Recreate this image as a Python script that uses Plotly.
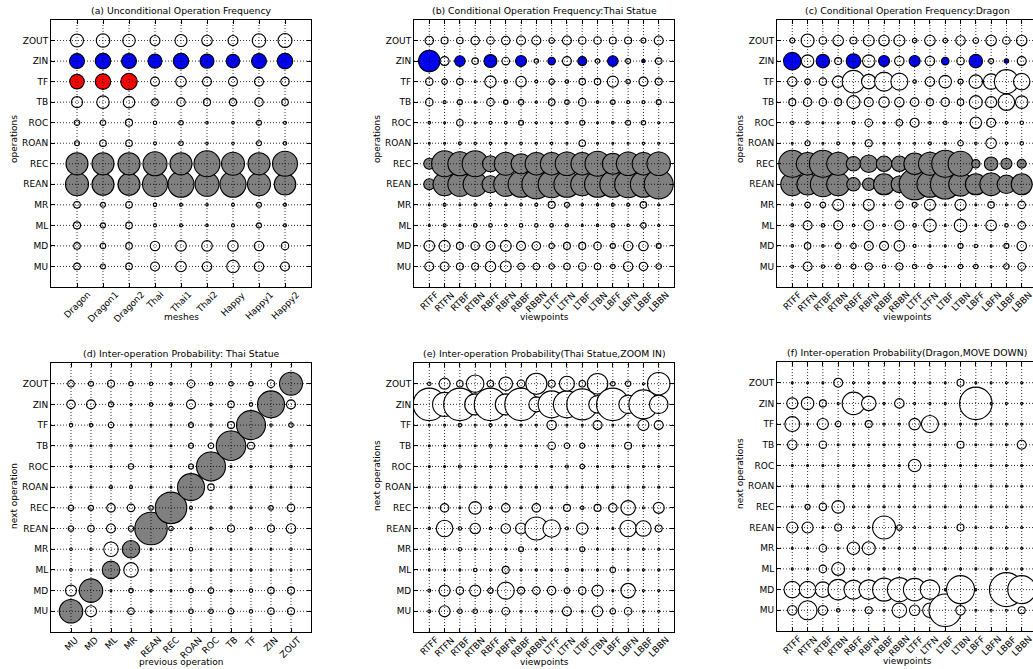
import math
import plotly.graph_objects as go

W, H = 1033, 669
FONT = "DejaVu Sans"

# ---------------- categories ----------------
OPS = ["ZOUT", "ZIN", "TF", "TB", "ROC", "ROAN", "REC", "REAN", "MR", "ML", "MD", "MU"]  # top -> bottom
MESHES = ["Dragon", "Dragon1", "Dragon2", "Thai", "Thai1", "Thai2", "Happy", "Happy1", "Happy2"]
VIEWS = ["RTFF", "RTFN", "RTBF", "RTBN", "RBFF", "RBFN", "RBBF", "RBBN",
         "LTFF", "LTFN", "LTBF", "LTBN", "LBFF", "LBFN", "LBBF", "LBBN"]
PREV_OPS = ["MU", "MD", "ML", "MR", "REAN", "REC", "ROAN", "ROC", "TB", "TF", "ZIN", "ZOUT"]

# ---------------- values (%), rows follow OPS order ----------------
uncond_freq = [
    [7.8, 8.4, 7.3, 4.8, 6.8, 5.3, 4.8, 8.4, 9.0],
    [10.2, 10.9, 10.2, 9.0, 10.9, 9.0, 8.4, 10.2, 10.9],
    [9.6, 10.9, 12.3, 4.0, 5.3, 4.0, 4.0, 4.0, 3.6],
    [5.8, 7.3, 6.3, 2.3, 3.6, 2.6, 2.6, 3.6, 2.3],
    [1.7, 1.7, 2.6, 0.8, 1.2, 0.5, 0.5, 1.4, 0.64],
    [1.4, 2.3, 2.3, 0.64, 1.2, 0.5, 0.5, 1.4, 0.8],
    [21.2, 21.2, 21.2, 25.0, 21.2, 29.2, 23.0, 21.2, 27.0],
    [23.0, 21.2, 21.2, 27.0, 29.2, 25.0, 29.2, 23.0, 20.3],
    [2.3, 1.4, 2.3, 0.8, 0.64, 0.5, 0.64, 1.4, 0.64],
    [2.6, 1.4, 2.3, 0.64, 0.64, 0.5, 0.64, 1.4, 0.64],
    [2.3, 1.7, 2.3, 4.4, 5.3, 5.3, 5.3, 4.4, 2.9],
    [2.3, 1.4, 2.3, 4.0, 5.3, 4.4, 7.3, 4.4, 4.0],
]

cond_freq_thai = [
    [3.6, 2.56, 2.25, 3.6, 2.9, 3.6, 4.0, 4.0, 1.7, 4.0, 2.9, 2.9, 2.56, 2.56, 1.44, 4.0],
    [20.3, 4.0, 5.3, 2.25, 7.8, 2.9, 5.8, 1.2, 2.9, 4.0, 4.0, 1.2, 5.3, 1.44, 0.8, 2.25],
    [2.9, 1.7, 2.25, 0.16, 6.25, 0.8, 5.3, 0.64, 1.7, 0.8, 2.25, 2.25, 5.8, 1.2, 4.0, 2.56],
    [2.9, 0.64, 1.44, 0.36, 2.9, 1.2, 1.7, 0.36, 2.25, 1.2, 2.9, 0.5, 1.2, 0.64, 0.64, 1.44],
    [0.5, 0.16, 2.25, 0.16, 0.64, 0.5, 1.44, 0.16, 0.16, 0.5, 1.44, 0.16, 0.5, 1.44, 1.2, 0.16],
    [0.16, 0.16, 0.64, 0.5, 0.5, 0.36, 0.5, 0.16, 0.5, 0.16, 2.25, 0.36, 0.16, 0.36, 0.5, 0.16],
    [5.8, 29.2, 25.0, 29.2, 11.6, 23.0, 17.6, 22.1, 22.1, 24.0, 22.1, 27.0, 19.4, 24.0, 22.1, 24.0],
    [5.8, 23.0, 25.0, 25.0, 13.0, 25.0, 29.2, 36.0, 31.4, 29.2, 23.0, 29.2, 29.2, 31.4, 29.2, 36.0],
    [0.16, 0.64, 0.36, 0.5, 0.64, 0.36, 0.5, 0.64, 2.56, 1.44, 0.5, 0.5, 0.64, 0.64, 2.25, 0.16],
    [0.16, 0.64, 0.36, 0.8, 0.8, 0.5, 0.8, 0.8, 0.8, 0.64, 0.16, 0.5, 0.8, 0.5, 1.7, 0.16],
    [5.3, 5.8, 2.56, 3.6, 4.0, 5.8, 4.0, 3.6, 1.7, 2.56, 2.56, 2.9, 1.44, 4.4, 4.4, 1.44],
    [4.0, 4.0, 2.56, 2.56, 5.3, 5.8, 2.25, 2.25, 1.7, 2.25, 2.9, 2.25, 1.2, 4.4, 3.6, 1.7],
]

cond_freq_dragon = [
    [1.44, 7.8, 2.9, 5.3, 2.56, 5.8, 5.3, 5.8, 1.2, 5.3, 1.2, 4.4, 1.7, 5.3, 2.9, 5.3],
    [13.7, 7.3, 8.4, 2.56, 9.6, 7.3, 5.8, 4.4, 5.8, 4.4, 2.9, 2.9, 8.4, 1.44, 1.2, 4.0],
    [4.4, 1.7, 2.9, 6.25, 22.1, 9.6, 16.0, 13.0, 0.8, 4.4, 7.3, 1.44, 8.4, 10.9, 25.0, 12.3],
    [2.56, 3.6, 2.9, 2.56, 7.8, 4.0, 5.3, 4.4, 3.6, 2.56, 3.6, 2.25, 7.8, 5.8, 12.3, 7.3],
    [0.8, 0.8, 0.36, 0.36, 0.64, 2.9, 0.16, 2.25, 4.0, 0.5, 0.8, 0.36, 6.25, 4.0, 0.5, 0.8],
    [0.36, 1.44, 0.36, 0.64, 0.16, 2.56, 0.16, 0.36, 0.36, 0.64, 0.36, 1.7, 0.5, 5.3, 0.5, 0.8],
    [31.4, 22.1, 31.4, 23.0, 9.6, 13.7, 10.9, 10.9, 20.3, 23.0, 31.4, 27.0, 3.6, 8.4, 5.8, 4.0],
    [23.0, 20.3, 27.0, 23.0, 8.4, 7.3, 19.4, 12.3, 41.0, 29.2, 37.2, 24.0, 19.4, 22.1, 15.2, 19.4],
    [0.5, 1.7, 1.7, 5.8, 0.16, 5.8, 0.36, 2.9, 1.44, 5.8, 0.36, 5.8, 0.36, 2.25, 0.36, 2.9],
    [0.64, 4.0, 0.8, 4.0, 0.5, 4.4, 0.5, 4.0, 0.8, 7.3, 0.36, 7.3, 0.16, 5.3, 0.8, 2.9],
    [0.5, 2.25, 0.5, 1.7, 1.7, 4.0, 4.0, 5.3, 0.64, 0.36, 0.16, 1.44, 0.8, 0.16, 1.44, 4.4],
    [0.64, 4.0, 0.8, 1.44, 1.44, 2.56, 0.8, 2.56, 1.2, 1.2, 0.16, 1.2, 1.2, 0.36, 1.7, 2.9],
]

# rows: next operation (OPS order), columns: previous operation (PREV_OPS order)
inter_prob_thai = [
    [2.25, 1.44, 2.56, 1.2, 0.8, 0.5, 2.9, 0.8, 1.2, 1.2, 2.9, 23.0],
    [3.6, 4.0, 1.44, 0.16, 0.8, 0.64, 4.0, 0.5, 2.25, 0.8, 31.4, 4.0],
    [0.8, 0.8, 1.7, 0.16, 0.16, 0.16, 1.44, 0.5, 2.56, 36.0, 0.5, 1.2],
    [0.5, 0.16, 0.5, 0.16, 0.16, 0.16, 1.44, 1.7, 37.2, 2.56, 0.36, 0.5],
    [0.16, 0.36, 0.16, 1.7, 0.16, 0.16, 1.44, 36.0, 0.16, 0.16, 0.16, 0.5],
    [0.16, 0.16, 0.64, 0.64, 0.16, 0.16, 31.4, 2.25, 0.16, 0.36, 0.16, 0.16],
    [1.7, 1.44, 3.6, 2.9, 1.2, 42.3, 0.64, 0.5, 0.5, 0.36, 1.2, 2.9],
    [1.7, 2.25, 4.0, 1.7, 44.9, 1.2, 0.16, 0.5, 2.56, 0.5, 2.56, 4.4],
    [0.5, 0.5, 9.6, 13.7, 0.16, 0.16, 0.8, 0.16, 0.36, 0.16, 0.16, 0.5],
    [0.5, 0.36, 13.7, 9.6, 0.16, 0.16, 0.16, 0.16, 0.16, 0.16, 0.36, 0.36],
    [5.8, 24.0, 0.16, 1.2, 0.5, 0.16, 1.2, 1.7, 0.5, 0.8, 2.25, 2.56],
    [24.0, 5.8, 0.16, 2.25, 0.5, 0.36, 1.2, 1.2, 1.7, 0.8, 2.25, 2.56],
]

inter_prob_thai_zoomin = [
    [0.8, 5.8, 2.25, 13.7, 2.25, 8.4, 2.9, 19.4, 2.56, 10.2, 2.25, 18.5, 1.2, 1.7, 0, 22.1],
    [44.9, 25.0, 44.9, 19.4, 44.9, 19.4, 44.9, 10.2, 31.4, 31.4, 41.0, 13.7, 44.9, 15.2, 36.0, 15.2],
    [0.36, 0, 0.8, 0, 0.64, 0, 0, 0, 4.4, 0, 0, 4.0, 0, 0, 5.8, 4.0],
    [0.36, 0, 0, 0, 0.64, 0, 0, 0, 2.9, 1.7, 1.44, 0, 0, 2.56, 0, 0],
    [0, 0, 0.64, 0, 0, 0, 0, 0, 0, 0.64, 1.2, 0, 0, 0, 0, 0],
    [0, 0, 0, 0, 0, 0, 0, 0, 0, 0, 0, 0, 0, 0, 0, 0],
    [0.16, 3.6, 0, 7.3, 0.64, 3.6, 0, 3.6, 0, 2.56, 0.8, 2.56, 3.6, 9.6, 0, 5.8],
    [0.5, 12.3, 0.8, 5.3, 0.5, 4.4, 5.8, 23.0, 13.7, 0.64, 6.25, 0, 0, 12.3, 10.9, 2.56],
    [0, 0.5, 0.8, 0, 0, 0, 1.44, 0, 0, 0, 1.44, 0, 0, 0, 0, 0],
    [0, 0, 0, 0.8, 0, 2.56, 0, 0, 0, 0.64, 0, 0, 1.7, 0, 0, 0],
    [0.64, 5.8, 2.9, 5.8, 1.7, 13.0, 2.56, 2.9, 3.6, 1.7, 2.9, 5.8, 0, 9.6, 0, 0],
    [0.64, 5.8, 1.2, 1.2, 0.64, 2.9, 0, 0, 0, 4.0, 0, 5.3, 1.7, 2.9, 0, 0],
]

inter_prob_dragon_movedown = [
    [0, 0, 0, 4.0, 0, 0, 0, 0, 0, 0, 0, 2.56, 0, 0, 0, 0],
    [5.8, 7.3, 2.56, 0, 22.1, 9.6, 0, 4.4, 0, 0, 0, 0, 44.9, 0, 0, 0],
    [10.2, 0, 5.8, 1.7, 0, 2.56, 0, 0, 6.25, 13.0, 0, 0, 0, 0, 0, 0],
    [4.4, 0, 2.9, 0, 0, 0, 0, 0, 0, 0, 0, 2.56, 0, 0, 0, 4.0],
    [0, 0, 0, 0, 0, 0, 0, 0, 7.3, 0, 0, 0, 0, 0, 0, 0],
    [0, 0, 0, 0, 0, 0, 0, 0, 0, 0, 0, 0, 0, 0, 0, 0],
    [0, 1.44, 2.9, 7.3, 0, 0, 0, 0, 0, 0, 0, 0, 0, 0, 0, 0],
    [5.8, 5.8, 0, 2.56, 0, 0, 23.0, 1.7, 0, 0, 0, 2.56, 0, 0, 0, 0],
    [0, 0, 2.9, 0, 7.3, 7.8, 0, 0, 0, 0, 0, 0, 0, 0, 0, 0],
    [0, 0, 2.9, 7.8, 0, 0, 0, 0, 0, 0, 0, 0, 0, 0, 0, 0],
    [12.3, 12.3, 10.9, 18.5, 16.0, 16.8, 23.0, 25.0, 22.1, 16.8, 0, 33.6, 0, 0, 49.0, 33.6],
    [4.4, 16.0, 4.4, 0.8, 0, 2.56, 0, 9.6, 5.3, 9.6, 44.9, 4.4, 0, 0, 0, 2.56],
]

# ---------------- styling ----------------
GREY, BLUE, RED, WHITE = "#808080", "#0000ff", "#ff0000", "#ffffff"


def colour_a(op, col):
    if op == "ZIN":
        return BLUE
    if op == "TF" and col.startswith("Dragon"):
        return RED
    if op in ("REC", "REAN"):
        return GREY
    return WHITE


def colour_bc(op, col):
    if op == "ZIN" and col.endswith("F"):
        return BLUE
    if op in ("REC", "REAN"):
        return GREY
    return WHITE


def colour_d(op, col):
    return GREY if op == col else WHITE


def colour_ef(op, col):
    return WHITE


# approximate DejaVu Sans advance widths (em) used to centre rotated tick labels
EM = {'A': .684, 'B': .686, 'C': .698, 'D': .770, 'E': .632, 'F': .575, 'H': .752, 'I': .295,
      'L': .557, 'M': .863, 'N': .748, 'O': .787, 'R': .695, 'T': .611, 'U': .732, 'Z': .685,
      'a': .613, 'g': .635, 'h': .634, 'i': .278, 'n': .634, 'o': .612, 'p': .635, 'r': .411,
      'y': .592, '1': .636, '2': .636}
FS = 9


def text_w(s):
    return sum(EM.get(c, .62) for c in s) * FS


AX_W = 260
panels = [
    dict(data=uncond_freq, xcats=MESHES, title="(a) Unconditional Operation Frequency",
         xtitle="meshes", ytitle="operations", left=51, top=20, bottom=287, ymid=139, colour=colour_a),
    dict(data=cond_freq_thai, xcats=VIEWS, title="(b) Conditional Operation Frequency:Thai Statue",
         xtitle="viewpoints", ytitle="operations", left=414, top=20, bottom=287, ymid=139, colour=colour_bc),
    dict(data=cond_freq_dragon, xcats=VIEWS, title="(c) Conditional Operation Frequency:Dragon",
         xtitle="viewpoints", ytitle="operations", left=777, top=20, bottom=287, ymid=139, colour=colour_bc),
    dict(data=inter_prob_thai, xcats=PREV_OPS, title="(d) Inter-operation Probability: Thai Statue",
         xtitle="previous operation", ytitle="next operation", left=51, top=363, bottom=632, ymid=496,
         colour=colour_d),
    dict(data=inter_prob_thai_zoomin, xcats=VIEWS, title="(e) Inter-operation Probability(Thai Statue,ZOOM IN)",
         xtitle="viewpoints", ytitle="next operations", left=414, top=363, bottom=632, ymid=476,
         colour=colour_ef),
    dict(data=inter_prob_dragon_movedown, xcats=VIEWS, title="(f) Inter-operation Probability(Dragon,MOVE DOWN)",
         xtitle="viewpoints", ytitle="next operations", left=777, top=362, bottom=631, ymid=474,
         colour=colour_ef),
]

fig = go.Figure()
shapes, annotations = [], []
font = dict(family=FONT, size=FS, color="black")
title_font = dict(family=FONT, size=9.3, color="black")
grid_line = dict(color="black", width=0.8, dash="1px,2px")
y_order = list(reversed(OPS))  # bottom -> top

for i, p in enumerate(panels, start=1):
    xa = "x" if i == 1 else f"x{i}"
    ya = "y" if i == 1 else f"y{i}"
    n = len(p["xcats"])
    left, top, bottom = p["left"], p["top"], p["bottom"]
    right = min(left + AX_W, W)
    xmax = -1 + (right - left) * (n + 1) / AX_W
    clipped = right < left + AX_W

    xs, ys, sizes, cols = [], [], [], []
    for j, col in enumerate(p["xcats"]):
        for op in y_order:
            v = p["data"][OPS.index(op)][j]
            xs.append(col)
            ys.append(op)
            sizes.append(max(5 * math.sqrt(v) - 1, 2))
            cols.append(p["colour"](op, col))
    fig.add_trace(go.Scatter(
        x=xs, y=ys, mode="markers", xaxis=xa, yaxis=ya, hoverinfo="skip",
        marker=dict(size=sizes, color=cols, line=dict(color="black", width=1.1), opacity=1),
    ))

    axis_common = dict(showgrid=False, zeroline=False, showline=True, linecolor="black", linewidth=1,
                       ticks="inside", ticklen=4, tickwidth=1, tickcolor="black", fixedrange=True,
                       type="category")
    fig.layout[("xaxis" if i == 1 else f"xaxis{i}")] = dict(
        axis_common, domain=[left / W, right / W], anchor=ya, categoryorder="array",
        categoryarray=p["xcats"], range=[-1, xmax], showticklabels=False, mirror="ticks")
    fig.layout[("yaxis" if i == 1 else f"yaxis{i}")] = dict(
        axis_common, domain=[1 - bottom / H, 1 - top / H], anchor=xa, categoryorder="array",
        categoryarray=y_order, range=[-1, 12], tickfont=font,
        mirror=False if clipped else "ticks")

    # dotted grid drawn above markers
    for col in p["xcats"]:
        shapes.append(dict(type="line", xref=xa, yref=f"{ya} domain", x0=col, x1=col, y0=0, y1=1,
                           line=grid_line, layer="above"))
    for op in OPS:
        shapes.append(dict(type="line", xref=f"{xa} domain", yref=ya, x0=0, x1=1, y0=op, y1=op,
                           line=grid_line, layer="above"))

    # rotated x tick labels: bounding box top 3px below the axis, centred on the tick
    for col in p["xcats"]:
        half = (text_w(col) + 10) * math.sqrt(0.5) / 2
        annotations.append(dict(x=col, xref=xa, y=0, yref=f"{ya} domain", text=col, showarrow=False,
                                textangle=-45, xanchor="center", yanchor="middle",
                                yshift=-(3 + half), font=font))
    cx = (left + AX_W / 2) / W
    annotations.append(dict(x=cx, xref="paper", y=1 - (top - 10) / H, yref="paper", text=p["title"],
                            showarrow=False, xanchor="center", yanchor="middle", font=title_font))
    annotations.append(dict(x=cx, xref="paper", y=1 - (bottom + 30) / H, yref="paper", text=p["xtitle"],
                            showarrow=False, xanchor="center", yanchor="middle", font=font))
    annotations.append(dict(x=(left - 37) / W, xref="paper", y=1 - p["ymid"] / H, yref="paper",
                            text=p["ytitle"], textangle=-90, showarrow=False, xanchor="center",
                            yanchor="middle", font=font))

fig.update_layout(
    width=W, height=H, autosize=False, showlegend=False,
    margin=dict(l=0, r=0, t=0, b=0, pad=0),
    paper_bgcolor="white", plot_bgcolor="white",
    font=font, shapes=shapes, annotations=annotations,
)

fig.write_html("out.html", config={"displayModeBar": False},
               post_script="document.body.style.margin='0px';document.body.style.overflow='hidden';")
